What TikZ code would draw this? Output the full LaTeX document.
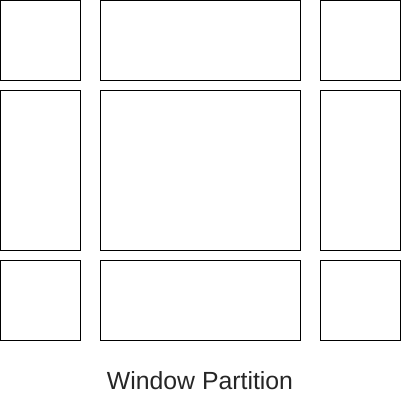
\documentclass[tikz,border=0pt]{standalone}
\usepackage{fontspec}
\setmainfont{Liberation Sans}
\begin{document}
\begin{tikzpicture}[
    x=1pt, y=-1pt,
    pane/.style={rectangle, draw=black, line width=1pt, fill=white, inner sep=0pt, outer sep=0pt},
    caption/.style={font=\fontsize{24.8}{28}\selectfont, text=black!85, inner sep=0pt},
]
\useasboundingbox (0,0) rectangle (402,411);
% top row
\node[pane, minimum width=80pt, minimum height=80pt] (tl) at (40.5,40.5) {};
\node[pane, minimum width=200pt, minimum height=80pt] (tc) at (200.5,40.5) {};
\node[pane, minimum width=80pt, minimum height=80pt] (tr) at (360.5,40.5) {};
% middle row
\node[pane, minimum width=80pt, minimum height=160pt] (ml) at (40.5,170.5) {};
\node[pane, minimum width=200pt, minimum height=160pt] (mc) at (200.5,170.5) {};
\node[pane, minimum width=80pt, minimum height=160pt] (mr) at (360.5,170.5) {};
% bottom row
\node[pane, minimum width=80pt, minimum height=80pt] (bl) at (40.5,300.5) {};
\node[pane, minimum width=200pt, minimum height=80pt] (bc) at (200.5,300.5) {};
\node[pane, minimum width=80pt, minimum height=80pt] (br) at (360.5,300.5) {};
\node[caption, anchor=base] (title) at (200,389) {Window Partition};
\end{tikzpicture}
\end{document}
